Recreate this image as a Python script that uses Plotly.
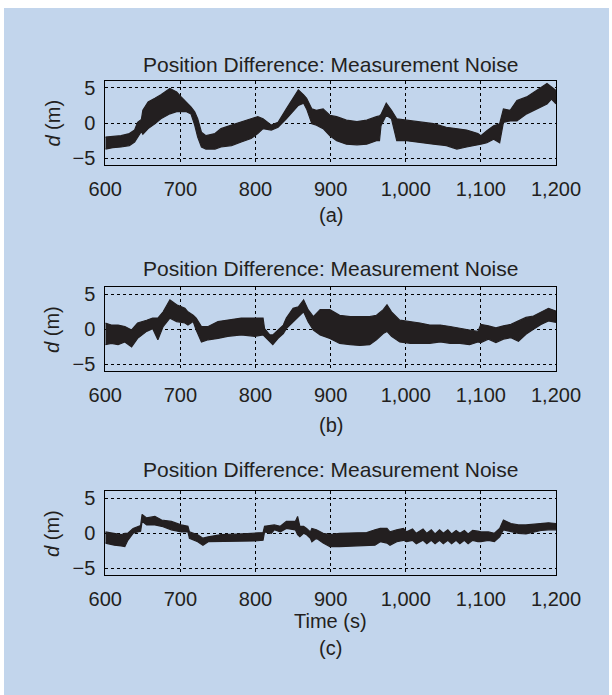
import plotly.graph_objects as go

# ---------------- data (envelopes) ----------------
a_t = [600, 610, 621, 632, 639, 643, 648, 650, 657, 666, 674, 686, 695, 701, 708, 714, 719, 723, 728, 734,
       746, 754, 768, 781, 794, 803, 810, 821, 830, 841, 850, 857, 864, 868, 875, 881, 890, 899, 908, 921,
       935, 948, 961, 965, 967, 974, 981, 988, 1001, 1019, 1037, 1054, 1068, 1081, 1096, 1100, 1108, 1117,
       1125, 1130, 1139, 1148, 1161, 1174, 1188, 1194, 1200]
a_hi = [-2.0, -1.9, -1.8, -1.5, -1.0, 0.1, 0.5, 1.8, 3.0, 3.5, 4.0, 4.9, 4.4, 3.7, 3.0, 2.3, 1.6, 0.6, -1.3, -1.8,
        -1.5, -0.8, -0.3, 0.1, 0.6, 0.9, 0.6, -0.3, 0.1, 2.0, 3.5, 4.7, 4.0, 3.5, 2.0, 1.8, 2.0, 1.1, 0.9, 0.4,
        0.2, 0.4, 0.9, 1.0, 1.2, 2.8, 1.8, 0.6, 0.4, 0.1, -0.1, -0.6, -0.8, -1.0, -1.5, -1.8, -1.1, -0.4,
        -0.1, 2.0, 1.8, 3.2, 3.7, 4.6, 5.6, 5.1, 4.6]
a_lo = [-3.7, -3.5, -3.4, -3.2, -2.7, -2.0, -1.2, -1.6, -0.8, -0.1, 0.6, 1.3, 1.6, 1.6, 1.6, 1.3, -0.3, -2.0, -3.4, -3.7,
        -3.7, -3.4, -3.2, -2.7, -2.2, -1.5, -0.8, -1.0, -0.6, 0.6, 1.6, 2.5, 2.8, 2.0, -0.1, -0.3, -0.8, -1.8, -2.5, -3.0,
        -3.1, -3.0, -2.5, -2.5, -0.4, 1.1, 0.6, -2.5, -2.5, -2.7, -3.0, -3.2, -3.7, -3.4, -3.0, -3.0, -2.8, -2.3,
        -2.8, 0.1, 0.3, 0.3, 1.3, 2.0, 2.7, 3.4, 2.7]

b_t = [600, 608, 617, 626, 635, 643, 655, 663, 670, 677, 686, 695, 706, 710, 717, 721, 728, 737, 750, 763,
       781, 799, 810, 812, 819, 823, 830, 837, 841, 850, 857, 864, 870, 877, 886, 899, 912, 926, 939, 952,
       961, 970, 975, 981, 992, 1006, 1019, 1032, 1046, 1059, 1072, 1085, 1096, 1100, 1110, 1120, 1130, 1140,
       1150, 1160, 1170, 1180, 1190, 1200]
b_hi = [0.9, 0.6, 0.6, 0.4, -0.1, 0.9, 1.3, 1.6, 1.6, 2.5, 4.2, 3.5, 3.0, 2.5, 2.0, 1.6, 0.4, 0.4, 1.1, 1.3,
        1.6, 1.6, 1.6, 0.1, -0.8, -0.8, -0.1, 0.6, 1.6, 3.0, 3.2, 4.2, 2.8, 1.8, 2.8, 2.8, 2.0, 1.8, 1.8, 1.8,
        2.0, 2.8, 3.5, 2.5, 1.3, 1.1, 0.9, 0.6, 0.6, 0.4, 0.1, -0.1, -0.3, 0.7, 0.5, 0.2, 0.5, 0.7,
        1.2, 1.7, 1.9, 2.4, 3.0, 2.6]
b_lo = [-2.2, -2.0, -2.2, -1.8, -2.5, -1.3, -0.3, 0.1, -1.5, 0.4, 1.6, 1.1, 0.9, 0.6, 1.1, -0.1, -1.8, -1.5, -1.3, -1.0,
        -0.8, -1.0, -0.8, -1.0, -1.8, -2.2, -1.3, -0.6, 0.1, 1.1, 1.8, 2.5, 1.1, -0.1, -0.8, -1.3, -2.0, -2.2, -2.3, -2.2,
        -1.5, -0.6, -0.3, -1.0, -1.8, -2.0, -2.0, -2.0, -1.8, -2.0, -2.0, -2.2, -1.8, -1.9, -1.4, -1.9, -1.4, -1.2,
        -1.7, -0.7, 0.0, 0.7, 1.2, 1.0]

c_t = [600, 612, 621, 626, 630, 637, 643, 647, 649, 655, 666, 675, 688, 701, 710, 712, 723, 730, 737, 754,
       777, 799, 810, 812, 821, 825, 833, 841, 853, 856, 859, 864, 868, 873, 875, 881, 890, 899, 912, 930,
       948, 959, 966, 975, 979, 988, 997, 1001, 1009, 1014, 1023, 1028, 1034, 1039, 1045, 1050, 1056, 1061,
       1067, 1072, 1078, 1083, 1089, 1096, 1100, 1110, 1118, 1125, 1130, 1140, 1150, 1160, 1170, 1180, 1190, 1200]
c_hi = [0.2, 0.0, -0.2, 0.0, 0.0, 0.7, 1.0, 1.1, 2.7, 2.2, 2.4, 1.9, 1.7, 1.2, 1.0, 0.2, -0.2, -0.7, -0.5, -0.2,
        -0.1, 0.0, 0.1, 1.0, 1.1, 1.2, 1.0, 1.7, 1.7, 2.4, 1.0, 1.0, 0.7, 0.2, 0.7, 0.5, 0.0, -0.2, 0.0, 0.0,
        0.1, 0.5, 0.7, 0.7, 0.2, 0.5, 0.7, 0.2, 0.6, 0.0, 0.6, 0.0, 0.5, -0.1, 0.5, 0.0, 0.5, -0.1,
        0.4, 0.0, 0.4, -0.1, 0.4, 0.3, 0.2, 0.2, 0.0, 0.7, 1.9, 1.4, 1.2, 1.2, 1.3, 1.4, 1.5, 1.4]
c_lo = [-1.4, -1.7, -1.8, -1.9, -1.0, 0.0, 0.2, 0.3, 1.7, 1.2, 1.2, 1.0, 0.5, 0.2, 0.2, -0.7, -1.2, -1.7, -1.2, -1.2,
        -1.2, -1.1, -1.0, 0.2, 0.0, 0.5, 0.2, 0.7, 0.5, -0.2, -0.5, 0.0, -0.2, -0.7, -1.2, -0.7, -1.4, -1.9, -1.9, -1.8,
        -1.7, -1.7, -1.2, -1.4, -1.7, -1.2, -1.0, -1.2, -1.0, -1.5, -1.0, -1.5, -1.0, -1.5, -1.0, -1.5, -1.0, -1.5,
        -1.0, -1.5, -1.0, -1.5, -1.0, -1.2, -1.2, -1.0, -1.2, -0.5, 0.5, 0.2, 0.0, -0.1, 0.2, 0.4, 0.5, 0.5]

x_tickvals = [600, 700, 800, 900, 1000, 1100, 1200]
x_ticktext = ["600", "700", "800", "900", "1,000", "1,100", "1,200"]
y_tickvals = [-5, 0, 5]
y_ticktext = ["\u22125", "0", "5"]
panel_title = "Position Difference: Measurement Noise"
panel_tags = ["(a)", "(b)", "(c)"]
x_title = "Time (s)"
y_title = "<i>d</i> (m)"

# ---------------- layout geometry (pixels) ----------------
W, H = 612, 695
PX_L, PX_R = 105.3, 556.0
panels_px = [(80.7, 165.3), (287.3, 371.3), (491.3, 575.3)]
title_y = [64.5, 268.7, 469.5]
tag_y = [215.0, 424.6, 647.6]

INK = "#231f20"
FONT = "Liberation Sans, Arial, Helvetica, sans-serif"

def py(y):
    return 1 - y / H

fig = go.Figure()
series = [(a_t, a_hi, a_lo), (b_t, b_hi, b_lo), (c_t, c_hi, c_lo)]
for i, (t, hi, lo) in enumerate(series):
    xa = "x" if i == 0 else f"x{i+1}"
    ya = "y" if i == 0 else f"y{i+1}"
    fig.add_trace(go.Scatter(x=t, y=lo, mode="lines", line=dict(color=INK, width=1.2),
                             xaxis=xa, yaxis=ya, showlegend=False, hoverinfo="skip"))
    fig.add_trace(go.Scatter(x=t, y=hi, mode="lines", line=dict(color=INK, width=1.2),
                             fill="tonexty", fillcolor=INK,
                             xaxis=xa, yaxis=ya, showlegend=False, hoverinfo="skip"))

axis_common = dict(showline=True, linecolor="black", linewidth=1, mirror=True,
                   showgrid=True, gridcolor="black", gridwidth=1, griddash="dot",
                   zeroline=False, ticks="", automargin=False,
                   tickfont=dict(family=FONT, size=20, color=INK))

layout = dict(width=W, height=H, autosize=False,
              margin=dict(l=0, r=0, t=0, b=0, pad=0, autoexpand=False),
              paper_bgcolor="white", plot_bgcolor="#e3eecf", showlegend=False)
for i, (top, bot) in enumerate(panels_px):
    sx = "" if i == 0 else str(i + 1)
    layout["xaxis" + sx] = dict(axis_common, domain=[PX_L / W, PX_R / W], range=[600, 1200],
                                tickvals=x_tickvals, ticktext=x_ticktext, anchor="y" + sx,
                                ticklabelstandoff=6)
    layout["yaxis" + sx] = dict(axis_common, domain=[py(bot), py(top)], range=[-6, 6],
                                tickvals=y_tickvals, ticktext=y_ticktext, anchor="x" + sx,
                                ticklabelstandoff=5)
fig.update_layout(**layout)

fig.add_shape(type="rect", xref="paper", yref="paper", x0=4 / W, x1=609 / W, y0=0, y1=py(8),
              fillcolor="#c2d5ec", line=dict(width=0), layer="below")

cx = (PX_L + PX_R) / 2 / W
for i, (top, bot) in enumerate(panels_px):
    fig.add_annotation(text=panel_title, x=cx, y=py(title_y[i]), xref="paper", yref="paper",
                       showarrow=False, xanchor="center", yanchor="middle",
                       font=dict(family=FONT, size=21, color=INK))
    fig.add_annotation(text=panel_tags[i], x=cx, y=py(tag_y[i]), xref="paper", yref="paper",
                       showarrow=False, xanchor="center", yanchor="middle",
                       font=dict(family=FONT, size=20, color=INK))
    fig.add_annotation(text=y_title, x=52.6 / W, y=py((top + bot) / 2), xref="paper", yref="paper",
                       showarrow=False, xanchor="center", yanchor="middle", textangle=-90,
                       font=dict(family=FONT, size=20, color=INK))
fig.add_annotation(text=x_title, x=cx, y=py(620.7), xref="paper", yref="paper",
                   showarrow=False, xanchor="center", yanchor="middle",
                   font=dict(family=FONT, size=20, color=INK))

fig.write_html("out.html", config={"displayModeBar": False})

# remove the default page margin so the figure sits at the window's top-left corner
with open("out.html", encoding="utf-8") as f:
    html = f.read()
html = html.replace("<head>", "<head><style>html,body{margin:0;padding:0;overflow:hidden;}</style>", 1)
with open("out.html", "w", encoding="utf-8") as f:
    f.write(html)
